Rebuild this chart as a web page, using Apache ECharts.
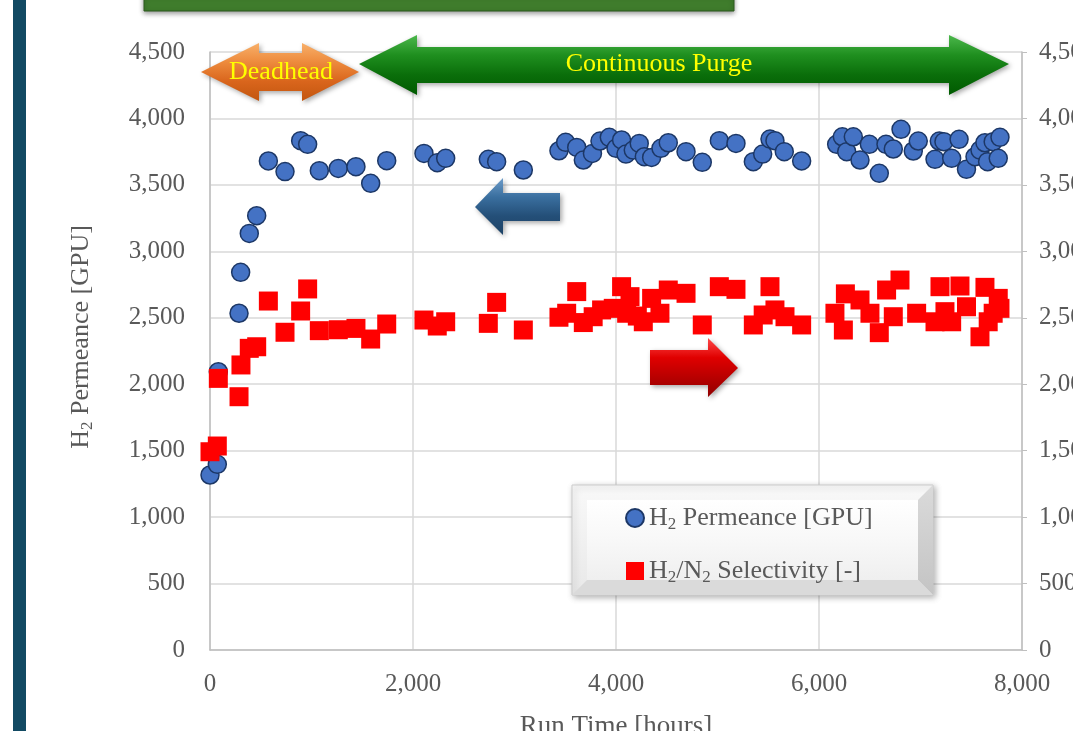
<!DOCTYPE html>
<html><head><meta charset="utf-8">
<script src="https://cdn.jsdelivr.net/npm/echarts@6/dist/echarts.min.js"></script>
<style>html,body{margin:0;padding:0;background:#fff}#c{width:1073px;height:731px}</style>
</head><body><div id="c"></div>
<script>
const xTicks = [0, 2000, 4000, 6000, 8000];
const yTicks = [0, 500, 1000, 1500, 2000, 2500, 3000, 3500, 4000, 4500];

const permX = [0,72,82,286,302,387,460,575,739,893,962,1077,1264,1438,1583,1741,2108,2239,2322,2742,2824,3087,3438,3504,3613,3678,3768,3842,3934,4000,4055,4098,4170,4229,4279,4351,4443,4515,4690,4850,5018,5182,5353,5445,5517,5566,5658,5829,6174,6230,6273,6338,6404,6496,6594,6660,6732,6808,6929,6978,7143,7185,7231,7307,7380,7453,7537,7586,7635,7661,7716,7766,7783];
const permY = [1317,1397,2094,2534,2842,3135,3268,3680,3600,3833,3805,3607,3624,3637,3512,3682,3737,3667,3700,3692,3675,3612,3757,3820,3782,3687,3737,3830,3858,3775,3838,3732,3762,3812,3712,3707,3775,3817,3750,3670,3833,3812,3675,3732,3845,3833,3750,3680,3805,3862,3750,3862,3687,3805,3587,3805,3770,3918,3755,3830,3692,3830,3825,3700,3843,3617,3712,3762,3817,3675,3825,3700,3858];

const selX = [0,72,82,286,305,387,460,575,739,893,962,1077,1264,1438,1583,1741,2108,2239,2322,2742,2824,3087,3438,3514,3613,3678,3775,3858,3973,4055,4105,4138,4210,4269,4351,4433,4515,4690,4850,5018,5182,5353,5450,5517,5566,5665,5829,6157,6240,6260,6404,6502,6594,6666,6732,6798,6962,7143,7192,7241,7307,7389,7453,7586,7635,7667,7716,7766,7783];
const selY = [1492,1535,2044,1906,2145,2270,2282,2626,2391,2551,2717,2403,2410,2420,2340,2453,2483,2438,2470,2458,2616,2408,2504,2534,2697,2464,2508,2559,2571,2734,2534,2659,2513,2470,2646,2534,2709,2684,2446,2734,2714,2446,2521,2734,2559,2508,2446,2534,2408,2680,2634,2534,2388,2709,2508,2784,2534,2470,2734,2546,2470,2739,2583,2357,2729,2470,2534,2646,2571];

const FONT = 'Liberation Serif';
const GREY = '#595959';
const fmt = v => Number(v).toLocaleString('en-US');

const chart = echarts.init(document.getElementById('c'), null, {renderer: 'canvas'});

function grad(stops, vertical) {
  return new echarts.graphic.LinearGradient(0, 0, vertical ? 0 : 1, vertical ? 1 : 0,
    stops.map((c, i) => ({offset: i / (stops.length - 1), color: c})));
}

const graphics = [
  {type: 'rect', shape: {x: 13, y: 0, width: 13, height: 731}, style: {fill: '#124a63'}, z: 1},
  {type: 'rect', shape: {x: 144, y: -6, width: 590, height: 17}, style: {fill: '#3f7c2c', stroke: '#2c5a1e', lineWidth: 1, shadowBlur: 5, shadowColor: 'rgba(0,0,0,0.4)', shadowOffsetY: 2}, z: 1},
  // Deadhead arrow
  {type: 'polygon', z: 20, shape: {points: [[201,72],[259,43],[259,53],[302,53],[302,43],[359,72],[302,101],[302,91],[259,91],[259,101]]},
    style: {fill: grad(['#f8b06a','#ed8a3c','#d9651c','#c2560f'], true), shadowBlur: 5, shadowColor: 'rgba(0,0,0,0.35)', shadowOffsetX: 2, shadowOffsetY: 2}},
  {type: 'text', z: 21, style: {x: 281, y: 72, text: 'Deadhead', fill: '#ffff00', font: '26px "Liberation Serif"', textAlign: 'center', textVerticalAlign: 'middle'}},
  // Continuous purge arrow
  {type: 'polygon', z: 20, shape: {points: [[359,64],[417,35],[417,47],[949,47],[949,35],[1009,64],[949,95],[949,83],[417,83],[417,95]]},
    style: {fill: grad(['#4cb84c','#1f8f1f','#0a6e0a','#005a00'], true), shadowBlur: 5, shadowColor: 'rgba(0,0,0,0.35)', shadowOffsetX: 2, shadowOffsetY: 2}},
  {type: 'text', z: 21, style: {x: 659, y: 64, text: 'Continuous Purge', fill: '#ffff00', font: '26px "Liberation Serif"', textAlign: 'center', textVerticalAlign: 'middle'}},
  // blue arrow (left)
  {type: 'polygon', z: 20, shape: {points: [[475,207],[503,178],[503,193],[560,193],[560,221],[503,221],[503,235]]},
    style: {fill: grad(['#6d9cc9','#3a6f9f','#244f78','#1d4266'], true), shadowBlur: 5, shadowColor: 'rgba(0,0,0,0.35)', shadowOffsetX: 2, shadowOffsetY: 2}},
  // red arrow (right)
  {type: 'polygon', z: 20, shape: {points: [[650,350],[708,350],[708,338],[738,368],[708,397],[708,385],[650,385]]},
    style: {fill: grad(['#ff4a4a','#e00000','#b80000','#900000'], true), shadowBlur: 5, shadowColor: 'rgba(0,0,0,0.35)', shadowOffsetX: 2, shadowOffsetY: 2}},
  // legend box
  {type: 'rect', z: 20, shape: {x: 572, y: 485, width: 361, height: 110},
    style: {fill: grad(['#f9f9f9','#e8e8e8'], true), stroke: '#cccccc', lineWidth: 1, shadowBlur: 6, shadowColor: 'rgba(0,0,0,0.3)', shadowOffsetX: 2, shadowOffsetY: 2}},
  {type: 'polygon', z: 20, shape: {points: [[933,485],[933,595],[918,580],[918,500]]}, style: {fill: grad(['#dadada','#c4c4c4'], true)}},
  {type: 'polygon', z: 20, shape: {points: [[572,595],[933,595],[918,580],[587,580]]}, style: {fill: '#dadada'}},
  {type: 'rect', z: 20, shape: {x: 587, y: 500, width: 331, height: 80}, style: {fill: grad(['#ffffff','#f8f8f8','#efefef'], true)}}
];

chart.setOption({
  animation: false,
  backgroundColor: '#ffffff',
  grid: {left: 210, right: 51, top: 52, bottom: 81, containLabel: false, outerBoundsMode: 'none'},
  xAxis: {
    type: 'value', min: 0, max: 8000, interval: 2000,
    name: 'Run Time [hours]', nameLocation: 'middle', nameGap: 63,
    nameTextStyle: {fontFamily: FONT, fontSize: 27, color: GREY},
    axisLine: {show: true, lineStyle: {color: '#bfbfbf', width: 1.5}},
    axisTick: {show: false},
    axisLabel: {formatter: fmt, fontFamily: FONT, fontSize: 25, color: GREY, margin: 22},
    splitLine: {show: true, lineStyle: {color: '#d9d9d9', width: 1.5}}
  },
  yAxis: [{
    type: 'value', min: 0, max: 4500, interval: 500, position: 'left',
    name: '{a|H}{b|2}{a| Permeance [GPU]}', nameLocation: 'middle', nameGap: 114, nameRotate: 90,
    nameTextStyle: {padding: [0, 0, 0, 28], rich: {
      a: {fontFamily: FONT, fontSize: 26, color: GREY, lineHeight: 30},
      b: {fontFamily: FONT, fontSize: 17, color: GREY, lineHeight: 15, verticalAlign: 'bottom'}
    }},
    axisLine: {show: true, lineStyle: {color: '#bfbfbf', width: 1.5}},
    axisTick: {show: false},
    axisLabel: {formatter: fmt, fontFamily: FONT, fontSize: 25, color: GREY, margin: 25},
    splitLine: {show: true, lineStyle: {color: '#d9d9d9', width: 1.5}}
  }, {
    type: 'value', min: 0, max: 4500, interval: 500, position: 'right',
    axisLine: {show: true, lineStyle: {color: '#bfbfbf', width: 1.5}},
    axisTick: {show: true, length: 5, lineStyle: {color: '#bfbfbf'}},
    axisLabel: {formatter: fmt, fontFamily: FONT, fontSize: 25, color: GREY, margin: 17},
    splitLine: {show: false}
  }],
  legend: {
    orient: 'vertical', left: 620, top: 500, z: 30, itemGap: 25,
    itemWidth: 18, itemHeight: 18,
    data: [{name: 'perm', icon: 'circle'}, {name: 'sel', icon: 'rect'}],
    formatter: n => n === 'perm' ? '{a|H}{b|2}{a| Permeance [GPU]}' : '{a|H}{b|2}{a|/N}{b|2}{a| Selectivity [-]}',
    textStyle: {rich: {
      a: {fontFamily: FONT, fontSize: 26, color: GREY, lineHeight: 30},
      b: {fontFamily: FONT, fontSize: 17, color: GREY, lineHeight: 15, verticalAlign: 'bottom'}
    }}
  },
  graphic: graphics,
  series: [{
    name: 'perm', type: 'scatter', yAxisIndex: 0, symbol: 'circle', symbolSize: 18,
    itemStyle: {color: '#4472c4', borderColor: '#1c3766', borderWidth: 1.5, opacity: 1},
    data: permX.map((x, i) => [x, permY[i]]), z: 3
  }, {
    name: 'sel', type: 'scatter', yAxisIndex: 1, symbol: 'rect', symbolSize: 19,
    itemStyle: {color: '#ff0000', opacity: 1},
    data: selX.map((x, i) => [x, selY[i]]), z: 4
  }]
});
</script></body></html>
